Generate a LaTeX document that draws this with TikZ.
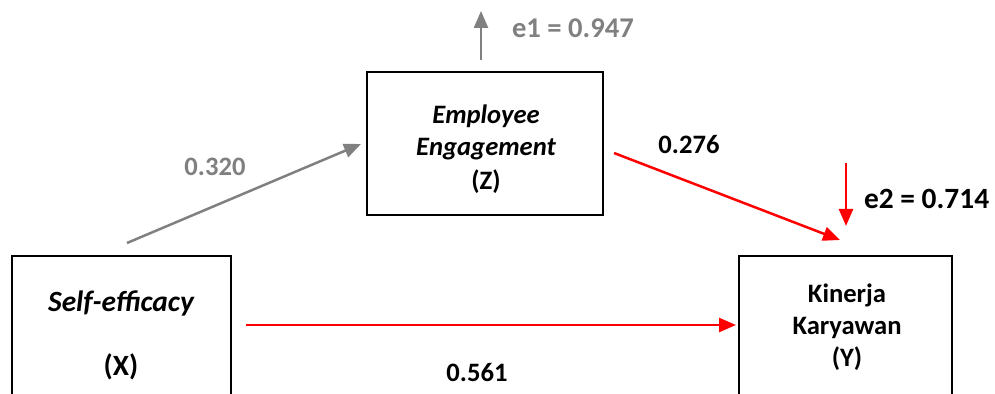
\documentclass[tikz,border=0pt]{standalone}
\usepackage{fontspec}
\setmainfont{Carlito}
\usetikzlibrary{arrows.meta}
\definecolor{pathgray}{RGB}{128,128,128}
\definecolor{pathred}{RGB}{255,0,0}

\begin{document}
\begin{tikzpicture}[x=0.5pt,y=-0.5pt,
  box/.style={draw,line width=1.2pt,inner sep=0pt},
  lbl/.style={font=\bfseries\fontsize{13.3}{16}\selectfont,align=center},
  big/.style={font=\bfseries\fontsize{14.7}{16}\selectfont},
  path/.style={line width=1.25pt,-{Triangle[length=8.5pt,width=7pt]}}]
\useasboundingbox (0,0) rectangle (995,394);
\clip (0,0) rectangle (995,394);
% the three variables
\node[box,minimum width=109.5pt,minimum height=80pt]   (X) at (121.5,336) {};
\node[box,minimum width=118pt,minimum height=71.5pt]   (Z) at (485,143.5) {};
\node[box,minimum width=106.5pt,minimum height=80pt]   (Y) at (845.5,336) {};
\node[big] (xname) at (121,303) {\itshape Self-efficacy};
\node[big] (xcode) at (121,367) {(X)};
\node[lbl] (zname) at (486,149) {\itshape Employee\\[0pt]\itshape Engagement\\[1pt](Z)};
\node[lbl] (yname) at (847,327) {Kinerja\\Karyawan\\(Y)};
% arrow ends
\coordinate (xz0) at (127,243);  \coordinate (xz1) at (361,144);
\coordinate (zy0) at (614,153);  \coordinate (zy1) at (840,240);
\coordinate (xy0) at (246,325);  \coordinate (xy1) at (736,325);
\coordinate (e10) at (481,60);   \coordinate (e11) at (481,11);
\coordinate (e20) at (846,163);  \coordinate (e21) at (846,226);
% paths
\draw[path,pathgray] (xz0) -- (xz1);
\draw[path,pathgray] (e10) -- (e11);
\draw[path,pathred] (zy0) -- (zy1);
\draw[path,pathred] (xy0) -- (xy1);
\draw[path,pathred] (e20) -- (e21);
% coefficients
\node[lbl,text=pathgray] (cxz) at (215,167) {0.320};
\node[lbl,text=pathgray,anchor=west,font=\bfseries\fontsize{14.3}{16}\selectfont] (ce1) at (505,28) {e1 = 0.947};
\node[lbl] (czy) at (689,145) {0.276};
\node[lbl] (cxy) at (477,373) {0.561};
\node[big,anchor=west] (ce2) at (857,199) {e2 = 0.714};
\end{tikzpicture}
\end{document}
